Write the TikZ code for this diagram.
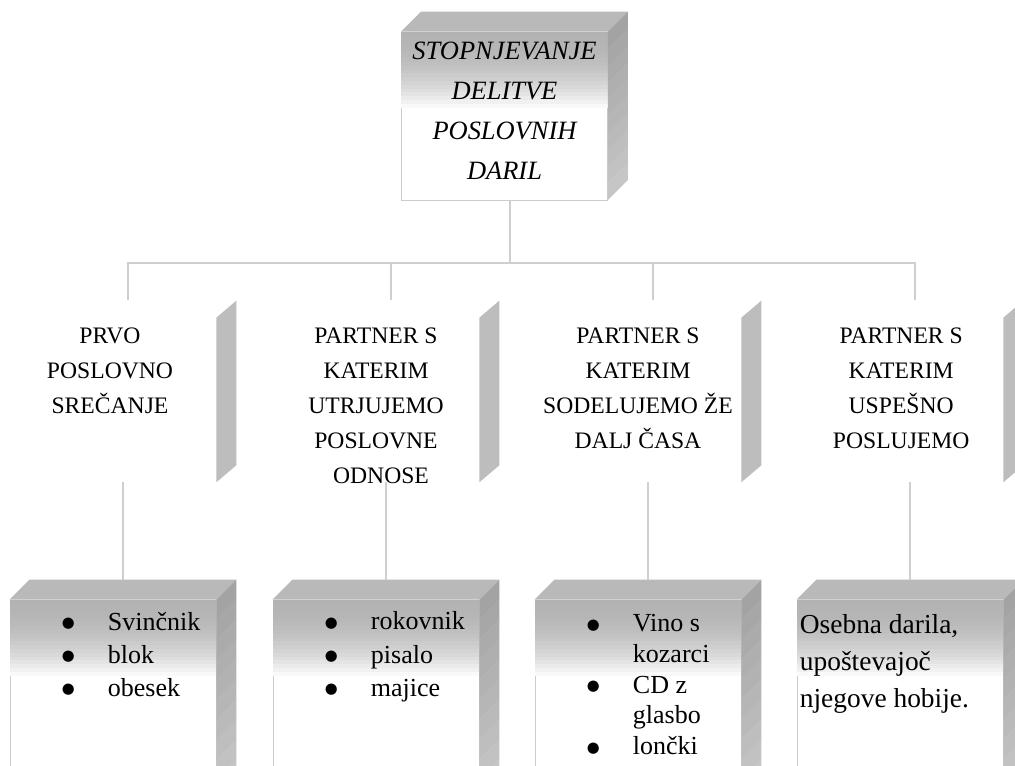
\documentclass[tikz,border=0pt]{standalone}
\usepackage{fontspec}
\setmainfont{Liberation Serif}
\newfontfamily\symb{DejaVu Sans}
\usetikzlibrary{positioning,calc}
\tikzset{
  face/.style={rectangle, draw=gray!40, line width=0.5pt, inner sep=0pt, minimum width=5.15cm},
  midface/.style={rectangle, inner sep=0pt, minimum width=5.15cm, minimum height=4.1cm},
  topside/.style={fill=gray!55},
  midside/.style={fill=gray!52},
  conn/.style={draw=gray!38, line width=1.8pt},
  ttl/.style={font=\itshape\fontsize{18.8}{28.4}\selectfont, align=center, inner sep=0pt, anchor=north},
  lvl/.style={font=\fontsize{16.8}{24.9}\selectfont, align=center, inner sep=0pt, anchor=north},
  gift/.style={font=\fontsize{18.5}{23.5}\selectfont, align=left, inner sep=0pt, anchor=north west},
}
\newcommand{\itm}{\makebox[1.15cm][l]{\raisebox{1.5pt}{\symb\fontsize{10.5}{10.5}\selectfont ●}}}
\newcommand{\cnt}{\hspace*{1.15cm}}

\begin{document}
\begin{tikzpicture}[x=0.025cm, y=-0.025cm]
\useasboundingbox (0,0) rectangle (1015,766);
\fill[white] (0,0) rectangle (1015,766);
% top box
\node[face, minimum height=4.2cm] (top) at (504.5,116) {};
% levels
\node[midface] (m1) at (113,400) {};
\node[midface] (m2) at (376,400) {};
\node[midface] (m3) at (638,400) {};
\node[midface] (m4) at (900,400) {};
% gifts
\node[face, minimum height=5cm] (b1) at (113,700) {};
\node[face, minimum height=5cm] (b2) at (376,700) {};
\node[face, minimum height=5cm] (b3) at (638,700) {};
\node[face, minimum height=5cm] (b4) at (900,700) {};
% 3d faces, shaded in strips
\foreach \n/\h in {top/0.42cm,b1/0.5cm,b2/0.5cm,b3/0.5cm,b4/0.5cm}{
  \foreach \i [evaluate=\i as \c using int(60-0.15*\i*\i)] in {0,...,19}
    \fill[gray!\c] ([yshift={-\i*0.095cm}]\n.north west) rectangle ([yshift={-(\i+1)*0.095cm-0.005cm}]\n.north east);
  \fill[topside] (\n.north west) -- ++(20,-20) -- ([shift={(20,-20)}]\n.north east) -- (\n.north east) -- cycle;
  \foreach \i [evaluate=\i as \c using int(72-3*\i)] in {0,...,9}
    \fill[gray!\c] ([yshift={-\i*\h}]\n.north east) -- ([shift={(20,-20)}, yshift={-\i*\h}]\n.north east)
      -- ([shift={(20,-20)}, yshift={-(\i+1)*\h-0.01cm}]\n.north east) -- ([yshift={-(\i+1)*\h-0.01cm}]\n.north east) -- cycle;
}
\foreach \n in {m1,m2,m3,m4}
  \fill[midside] (\n.north east) -- ++(20,-17) -- ([shift={(20,-17)}]\n.south east) -- (\n.south east) -- cycle;
% connectors
\coordinate (bus) at (510,263);
\draw[conn] (top.south -| bus) -- (bus);
\foreach \n in {m1,m2,m3,m4}
  \draw[conn] (bus) -| ([xshift=0.375cm, yshift=0.45cm]\n.north);
\foreach \n/\g in {m1/b1,m2/b2,m3/b3,m4/b4}
  \draw[conn] ([xshift=0.25cm]\n.south) -- ([xshift=0.25cm, yshift=0.5cm]\g.north);
% texts
\node[ttl] (ttltxt) at ([yshift=-0.25cm]top.north) {STOPNJEVANJE\\DELITVE\\POSLOVNIH\\DARIL};
\node[lvl] (l1) at ([xshift=-0.075cm, yshift=-0.24cm]m1.north) {PRVO\\POSLOVNO\\SREČANJE};
\node[lvl] (l2) at ([yshift=-0.24cm]m2.north) {PARTNER S\\KATERIM\\UTRJUJEMO\\POSLOVNE\\\hspace*{0.25cm}ODNOSE};
\node[lvl] (l3) at ([yshift=-0.24cm]m3.north) {PARTNER S\\KATERIM\\SODELUJEMO ŽE\\DALJ ČASA};
\node[lvl] (l4) at ([xshift=0.03cm, yshift=-0.24cm]m4.north) {PARTNER S\\KATERIM\\USPEŠNO\\POSLUJEMO};
\node[gift] (g1) at ([xshift=1.3cm, yshift=-0.3cm]b1.north west) {\itm Svinčnik\\\itm blok\\\itm obesek};
\node[gift] (g2) at ([xshift=1.3cm, yshift=-0.3cm]b2.north west) {\itm rokovnik\\\itm pisalo\\\itm majice};
\node[gift, font=\fontsize{18.5}{22}\selectfont] (g3) at ([xshift=1.3cm, yshift=-0.35cm]b3.north west) {\itm Vino s\\\cnt kozarci\\\itm CD z\\\cnt glasbo\\\itm lončki};
\node[gift, font=\fontsize{19.5}{26.3}\selectfont] (g4) at ([xshift=0.075cm, yshift=-0.375cm]b4.north west) {Osebna darila,\\upoštevajoč\\njegove hobije.};
\end{tikzpicture}
\end{document}
